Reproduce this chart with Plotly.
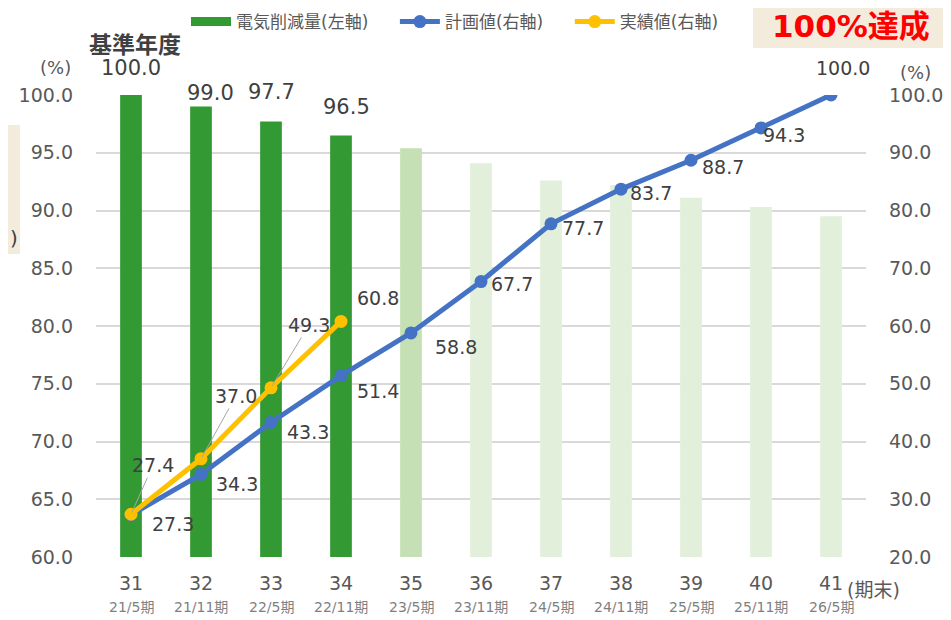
import plotly.graph_objects as go

# data
periods = [31, 32, 33, 34, 35, 36, 37, 38, 39, 40, 41]
period_sub = ["21/5期", "21/11期", "22/5期", "22/11期", "23/5期", "23/11期",
              "24/5期", "24/11期", "25/5期", "25/11期", "26/5期"]
electricity = [100.0, 99.0, 97.7, 96.5, 95.4, 94.1, 92.6, 92.2, 91.1, 90.3, 89.5]
plan = [27.3, 34.3, 43.3, 51.4, 58.8, 67.7, 77.7, 83.7, 88.7, 94.3, 100.0]
actual_periods = [31, 32, 33, 34]
actual = [27.4, 37.0, 49.3, 60.8]

# styles
bar_colors = ["#339933"] * 4 + ["#c5e0b4"] + ["#e2efda"] * 6
BLUE = "#4472c4"
ORANGE = "#ffc000"
TXT = "#404040"
TICK = "#595959"
FONT = "DejaVu Sans, Noto Sans CJK JP, sans-serif"

# label offsets in pixels (x, y-up)
bar_lbl_off = [(0, 27), (9, 14), (0, 30), (5, 28)]
plan_lbl_off = [(42, -9), (36, -10), (37, -10), (37, -15), (45, -14), (31, -2),
                (32, -4), (30, -4), (32, -7), (23, -7), (12, 27)]
actual_lbl_off = [(22, 49), (35, 63), (38, 63), (37, 23)]

# page has an 8px body margin, so the figure is drawn 8px in from the corner
PAD = 8
W, H = 951 - PAD, 620 - PAD
L, R, T, B = 96 - PAD, 85, 95 - PAD, 63
pw, ph = W - L - R, H - T - B


def px(x):  # page x -> paper x
    return (x - PAD - L) / pw


def py(y):  # page y -> paper y
    return (H - (y - PAD) - B) / ph


NB = "\u00a0"

fig = go.Figure()

fig.add_trace(go.Bar(
    x=periods, y=electricity, name="電気削減量(左軸)",
    marker=dict(color=bar_colors, line=dict(width=0)), width=0.31,
    yaxis="y", showlegend=False,
))
# legend swatch for the bar series
fig.add_trace(go.Scatter(
    x=[None], y=[None], name="電気削減量(左軸)" + NB * 4, mode="lines",
    line=dict(color="#339933", width=9), showlegend=True,
))
fig.add_trace(go.Scatter(
    x=periods, y=plan, name="計画値(右軸)" + NB * 4, yaxis="y2",
    mode="lines+markers", line=dict(color=BLUE, width=5),
    marker=dict(color=BLUE, size=13),
))
fig.add_trace(go.Scatter(
    x=actual_periods, y=actual, name="実績値(右軸)", yaxis="y2",
    mode="lines+markers", line=dict(color=ORANGE, width=5),
    marker=dict(color=ORANGE, size=13),
))

ann = []
for i, v in enumerate(electricity[:4]):
    dx, dy = bar_lbl_off[i]
    ann.append(dict(x=periods[i], y=v, xref="x", yref="y", text=f"{v:.1f}",
                    showarrow=False, xshift=dx, yshift=dy,
                    font=dict(size=21, color=TXT, family=FONT)))
for i, v in enumerate(plan):
    dx, dy = plan_lbl_off[i]
    ann.append(dict(x=periods[i], y=v, xref="x", yref="y2", text=f"{v:.1f}",
                    showarrow=False, xshift=dx, yshift=dy,
                    font=dict(size=19, color=TXT, family=FONT)))
for i, v in enumerate(actual):
    dx, dy = actual_lbl_off[i]
    lead = i < 3
    ann.append(dict(x=actual_periods[i], y=v, xref="x", yref="y2", text=f"{v:.1f}",
                    showarrow=lead, arrowhead=0, arrowwidth=1, arrowcolor="#a6a6a6",
                    ax=dx, ay=-dy, standoff=2,
                    xshift=0 if lead else dx, yshift=0 if lead else dy,
                    font=dict(size=19, color=TXT, family=FONT)))
for i, p in enumerate(periods):
    ann.append(dict(x=p, y=0, xref="x", yref="paper", text=str(p),
                    showarrow=False, yshift=-26, yanchor="middle",
                    font=dict(size=19, color=TICK, family=FONT)))
    ann.append(dict(x=p, y=0, xref="x", yref="paper", text=period_sub[i],
                    showarrow=False, yshift=-50, yanchor="middle",
                    font=dict(size=14, color="#7f7f7f", family=FONT)))

paper_txt = [
    dict(x=846, y=590, text="(期末)", size=19, color=TICK, bold=False, anchor="left"),
    dict(x=55, y=67, text="(%)", size=18, color=TICK, bold=False, anchor="center"),
    dict(x=915, y=73, text="(%)", size=18, color=TICK, bold=False, anchor="center"),
    dict(x=135, y=45, text="基準年度", size=23, color=TXT, bold=True, anchor="center"),
    dict(x=851, y=26, text="100%達成", size=31, color="#ff0000", bold=True, anchor="center"),
    dict(x=19, y=238, text=")", size=20, color=TXT, bold=False, anchor="right"),
]
for t in paper_txt:
    txt = f"<b>{t['text']}</b>" if t["bold"] else t["text"]
    ann.append(dict(x=px(t["x"]), y=py(t["y"]), xref="paper", yref="paper",
                    xanchor=t["anchor"], yanchor="middle", text=txt, showarrow=False,
                    borderpad=0,
                    font=dict(size=t["size"], color=t["color"], family=FONT)))

shapes = [
    dict(type="rect", xref="paper", yref="paper",
         x0=px(753), x1=px(960), y0=py(48), y1=py(0),
         fillcolor="#f3ebdc", line=dict(width=0), layer="below"),
    dict(type="rect", xref="paper", yref="paper",
         x0=px(0), x1=px(20), y0=py(254), y1=py(125),
         fillcolor="#f3ebdc", line=dict(width=0), layer="below"),
]

fig.update_layout(
    width=W, height=H,
    margin=dict(l=L, r=R, t=T, b=B, autoexpand=False),
    paper_bgcolor="white", plot_bgcolor="white",
    font=dict(family=FONT, color=TICK),
    barmode="overlay",
    xaxis=dict(range=[30.5, 41.5], showticklabels=False, showgrid=False,
               zeroline=False, showline=False, fixedrange=True),
    yaxis=dict(range=[60, 100], dtick=5, tickformat=".1f",
               showgrid=True, gridcolor="#d9d9d9", gridwidth=1.5,
               zeroline=False, showline=False, automargin=False,
               ticklabelstandoff=22, tickfont=dict(size=19, color=TICK)),
    yaxis2=dict(range=[20, 100], dtick=10, tickformat=".1f", overlaying="y",
                side="right", showgrid=False, zeroline=False, showline=False,
                automargin=False,
                ticklabelstandoff=22, tickfont=dict(size=19, color=TICK)),
    legend=dict(orientation="h", x=px(186), xanchor="left",
                y=py(4), yanchor="top",
                font=dict(size=17, color=TICK, family=FONT),
                bgcolor="rgba(0,0,0,0)", itemwidth=40, traceorder="normal"),
    annotations=ann,
    shapes=shapes,
)

fig.write_html("out.html")
